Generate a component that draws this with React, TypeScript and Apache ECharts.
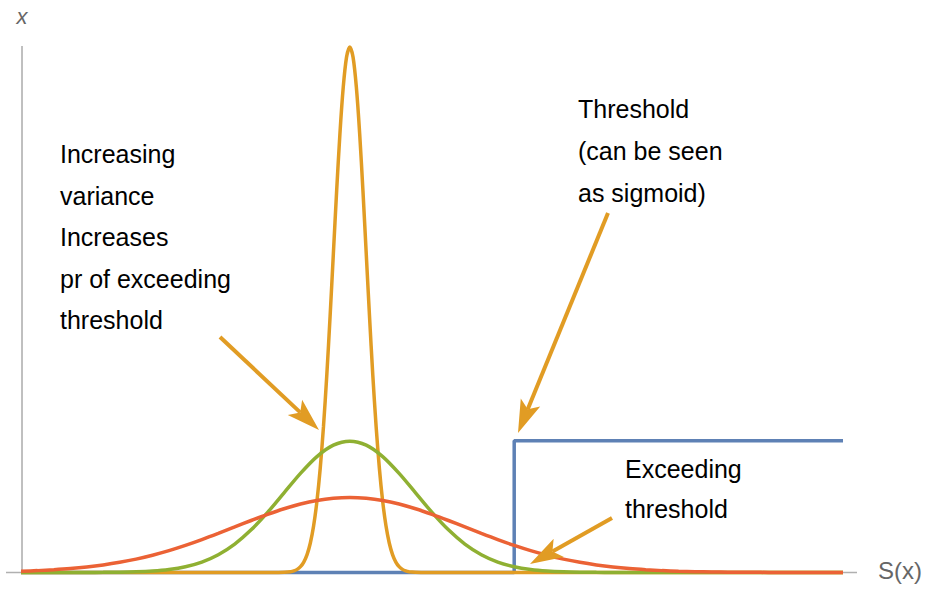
import React, { useEffect, useRef } from "react";
import * as echarts from "echarts";

// Shared x grid for the wide curves
const sharedX = [
  -5, -4.75, -4.5, -4.25, -4, -3.75, -3.5, -3.25, -3, -2.75, -2.5, -2.25, -2, -1.75, -1.5, -1.25, -1, -0.75, -0.5, -0.25,
  0,
  0.25, 0.5, 0.75, 1, 1.25, 1.5, 1.75, 2, 2.25, 2.5, 2.75, 3, 3.25, 3.5, 3.75, 4, 4.25, 4.5, 4.75, 5, 5.25, 5.5, 5.75, 6,
  6.25, 6.5, 6.75, 7, 7.25, 7.5,
];

// medium-variance curve (green)
const greenY = [
  0, 0, 0, 0, 0.0001, 0.0004, 0.0009, 0.002, 0.0044, 0.0091, 0.0175, 0.0317, 0.054, 0.0863, 0.1295, 0.1826, 0.242, 0.3011,
  0.3521, 0.3867,
  0.3989,
  0.3867, 0.3521, 0.3011, 0.242, 0.1826, 0.1295, 0.0863, 0.054, 0.0317, 0.0175, 0.0091, 0.0044, 0.002, 0.0009, 0.0004,
  0.0001, 0, 0, 0, 0, 0, 0, 0, 0, 0, 0, 0, 0, 0, 0,
];

// high-variance curve (red)
const redY = [
  0.0038, 0.0057, 0.0084, 0.0119, 0.0167, 0.023, 0.0309, 0.0406, 0.0525, 0.0663, 0.0822, 0.0998, 0.1187, 0.1383, 0.1579,
  0.1766, 0.1936, 0.208, 0.2189, 0.2256,
  0.228,
  0.2256, 0.2189, 0.208, 0.1936, 0.1766, 0.1579, 0.1383, 0.1187, 0.0998, 0.0822, 0.0663, 0.0525, 0.0406, 0.0309, 0.023,
  0.0167, 0.0119, 0.0084, 0.0057, 0.0038, 0.0025, 0.0016, 0.001, 0.0006, 0.0004, 0.0002, 0.0001, 0.0001, 0, 0,
];

// low-variance curve (orange)
const orangeX = [
  -5, -1.25, -1.1, -1, -0.9, -0.85, -0.8, -0.75, -0.7, -0.65, -0.6, -0.55, -0.5, -0.45, -0.4, -0.35, -0.3, -0.25, -0.2,
  -0.15, -0.1, -0.05, 0, 0.05, 0.1, 0.15, 0.2, 0.25, 0.3, 0.35, 0.4, 0.45, 0.5, 0.55, 0.6, 0.65, 0.7, 0.75, 0.8, 0.85,
  0.9, 1, 1.1, 1.25, 7.5,
];
const orangeY = [
  0, 0, 0.0001, 0.0005, 0.0024, 0.0049, 0.0095, 0.0177, 0.0317, 0.0543, 0.0896, 0.1419, 0.216, 0.3158, 0.4437, 0.5989,
  0.7768, 0.9679, 1.1587, 1.333, 1.4731, 1.5642, 1.5958, 1.5642, 1.4731, 1.333, 1.1587, 0.9679, 0.7768, 0.5989, 0.4437,
  0.3158, 0.216, 0.1419, 0.0896, 0.0543, 0.0317, 0.0177, 0.0095, 0.0049, 0.0024, 0.0005, 0.0001, 0, 0,
];

// threshold step (blue)
const thresholdX = [-5, 2.5, 2.5, 7.5];
const thresholdY = [0, 0, 0.4, 0.4];

const leftNote = ["Increasing", "variance", "Increases", "pr of exceeding", "threshold"];
const topNote = ["Threshold", "(can be seen", "as sigmoid)"];
const bottomNote = ["Exceeding", "threshold"];

const BLUE = "#5E81B5";
const ORANGE = "#E19C24";
const GREEN = "#8FB032";
const RED = "#EB6235";
const FONT = "'Liberation Sans', Arial, sans-serif";

const zip = (xs: number[], ys: number[]) => xs.map((x, i) => [x, ys[i]]);

function arrow(x1: number, y1: number, x2: number, y2: number) {
  const dx = x2 - x1;
  const dy = y2 - y1;
  const len = Math.sqrt(dx * dx + dy * dy);
  const ux = dx / len;
  const uy = dy / len;
  const L = 33;
  const w = 10.5;
  const bx = x2 - ux * L;
  const by = y2 - uy * L;
  const px = -uy;
  const py = ux;
  const nx = bx + ux * L * 0.22;
  const ny = by + uy * L * 0.22;
  return [
    {
      type: "line",
      z: 100,
      shape: { x1, y1, x2: nx, y2: ny },
      style: { stroke: ORANGE, lineWidth: 4 },
    },
    {
      type: "polygon",
      z: 100,
      shape: {
        points: [
          [x2, y2],
          [bx + px * w, by + py * w],
          [nx, ny],
          [bx - px * w, by - py * w],
        ],
      },
      style: { fill: ORANGE },
    },
  ];
}

function textLines(lines: string[], x: number, y0: number, step: number) {
  return lines.map((t, i) => ({
    type: "text",
    z: 100,
    x,
    y: y0 + i * step,
    style: {
      text: t,
      font: `25px ${FONT}`,
      fill: "#000",
      align: "left",
      verticalAlign: "middle",
    },
  }));
}

export default function App() {
  const ref = useRef<HTMLDivElement>(null);
  useEffect(() => {
    if (!ref.current) return;
    const chart = echarts.init(ref.current, null, { renderer: "svg" });
    const lineStyle = (c: string) => ({ color: c, width: 3.5 });
    chart.setOption({
      animation: false,
      grid: { left: 21, right: 87, top: 47, bottom: 16.5 },
      xAxis: {
        type: "value",
        min: -5,
        max: 7.5,
        show: false,
      },
      yAxis: {
        type: "value",
        min: 0,
        max: 1.5958,
        show: false,
      },
      series: [
        {
          type: "line",
          data: zip(thresholdX, thresholdY),
          showSymbol: false,
          clip: false,
          lineStyle: lineStyle(BLUE),
          z: 3,
        },
        {
          type: "line",
          data: zip(orangeX, orangeY),
          showSymbol: false,
          smooth: 0.3,
          clip: false,
          lineStyle: lineStyle(ORANGE),
          z: 4,
        },
        {
          type: "line",
          data: zip(sharedX, greenY),
          showSymbol: false,
          smooth: 0.3,
          clip: false,
          lineStyle: lineStyle(GREEN),
          z: 5,
        },
        {
          type: "line",
          data: zip(sharedX, redY),
          showSymbol: false,
          smooth: 0.3,
          clip: false,
          lineStyle: lineStyle(RED),
          z: 6,
        },
      ],
      graphic: [
        {
          type: "line",
          z: 0,
          shape: { x1: 6, y1: 572.5, x2: 857, y2: 572.5 },
          style: { stroke: "#b0b0b0", lineWidth: 1.5 },
        },
        {
          type: "line",
          z: 0,
          shape: { x1: 22, y1: 46, x2: 22, y2: 573 },
          style: { stroke: "#808080", lineWidth: 1 },
        },
        {
          type: "text",
          z: 100,
          x: 22,
          y: 16,
          style: {
            text: "x",
            font: `italic 22px ${FONT}`,
            fill: "#666",
            align: "center",
            verticalAlign: "middle",
          },
        },
        {
          type: "text",
          z: 100,
          x: 878,
          y: 570,
          style: {
            text: "S(x)",
            font: `24px ${FONT}`,
            fill: "#666",
            align: "left",
            verticalAlign: "middle",
          },
        },
        ...textLines(leftNote, 60, 154, 41.5),
        ...textLines(topNote, 578, 109, 42),
        ...textLines(bottomNote, 625, 469, 40),
        ...arrow(220, 337, 319, 430),
        ...arrow(608, 213, 518, 433),
        ...arrow(612, 518, 530, 564),
      ],
    });
    return () => chart.dispose();
  }, []);
  return (
    <div
      ref={ref}
      style={{ position: "fixed", left: 0, top: 0, width: 930, height: 589, background: "#fff" }}
    />
  );
}
